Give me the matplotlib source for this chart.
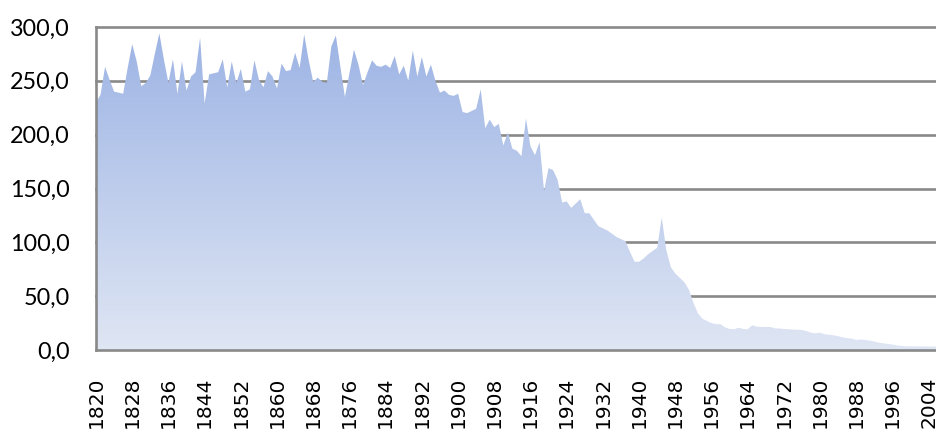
import numpy as np
import matplotlib
matplotlib.use("Agg")
import matplotlib.pyplot as plt
from matplotlib.colors import LinearSegmentedColormap
from matplotlib.ticker import FuncFormatter


years = np.arange(1820, 2007)
values = [
    230, 237, 263, 251, 240, 239, 238, 262, 284, 268,
    245, 248, 255, 275, 294, 270, 248, 270, 238, 268,
    241, 254, 258, 290, 229, 256, 257, 258, 270, 244,
    268, 248, 261, 240, 242, 269, 251, 244, 259, 254,
    243, 266, 259, 260, 276, 262, 293, 269, 249, 253,
    249, 248, 282, 292, 263, 235, 257, 279, 265, 246,
    258, 269, 264, 263, 265, 262, 273, 256, 264, 250,
    278, 254, 272, 254, 265, 250, 239, 241, 237, 236,
    238, 221, 220, 222, 224, 242, 206, 214, 207, 210,
    190, 202, 187, 185, 180, 215, 189, 181, 193, 148,
    169, 167, 158, 137, 138, 132, 136, 140, 127, 127,
    121, 115, 113, 111, 108, 105, 103, 101, 91, 82,
    82, 85, 89, 92, 95, 123, 93, 77, 71, 67,
    63, 56, 44, 34, 29, 27, 25, 24, 24, 21,
    19.5, 19.3, 20.7, 19.5, 19.3, 23, 21.7, 21.4, 21.4, 21.4,
    20.1, 20, 19.5, 19.3, 19, 18.8, 18.6, 17.5, 16.1, 15.5,
    16.1, 14.6, 14.2, 13.6, 12.8, 11.8, 11, 10.5, 9.3, 9.9,
    9.3, 8.7, 7.8, 6.8, 6.2, 5.6, 5, 4.3, 3.8, 3.4,
    3.4, 3.4, 3.3, 3.3, 3.3, 3.2, 3.2,
]
y_ticks = [0, 50, 100, 150, 200, 250, 300]
x_ticks = np.arange(1820, 2005, 8)

GRID = "#898989"


def comma_fmt(v, pos):
    return f"{v:.1f}".replace(".", ",")


def main():
    fig = plt.figure(figsize=(9.36, 4.29), dpi=100)
    ax = fig.add_axes([96 / 936, 79 / 429, 840 / 936, 323 / 429])

    # area with vertical gradient, clipped to the data polygon
    poly = ax.fill_between(years, values, 0, color="none", lw=0)
    cmap = LinearSegmentedColormap.from_list("area", ["#dfe6f4", "#9cb3e4"])
    grad = np.linspace(0, 1, 256).reshape(-1, 1)
    im = ax.imshow(grad, cmap=cmap, aspect="auto", origin="lower",
                   extent=[years[0], years[-1], 0, 300], zorder=2)
    im.set_clip_path(poly.get_paths()[0], transform=ax.transData)

    for v in y_ticks[1:]:
        ax.axhline(v, color=GRID, lw=1.9, zorder=1, clip_on=False)

    ax.set_xlim(1820, 2005.6)
    ax.set_ylim(0, 300)

    for side in ["top", "right"]:
        ax.spines[side].set_visible(False)
    for side in ["left", "bottom"]:
        ax.spines[side].set_color(GRID)
        ax.spines[side].set_linewidth(1.9)
        ax.spines[side].set_zorder(3)

    ax.set_yticks(y_ticks)
    ax.yaxis.set_major_formatter(FuncFormatter(comma_fmt))
    ax.tick_params(axis="y", length=0, pad=19)
    for lbl in ax.get_yticklabels():
        lbl.set_fontfamily("Lato")
        lbl.set_fontsize(16.8)

    ax.set_xticks(x_ticks)
    ax.set_xticklabels([str(y) for y in x_ticks], rotation=90,
                       fontfamily="DejaVu Sans", fontsize=14.5)
    ax.tick_params(axis="x", length=0, pad=19)

    fig.savefig("out.png", dpi=100)


if __name__ == "__main__":
    main()
